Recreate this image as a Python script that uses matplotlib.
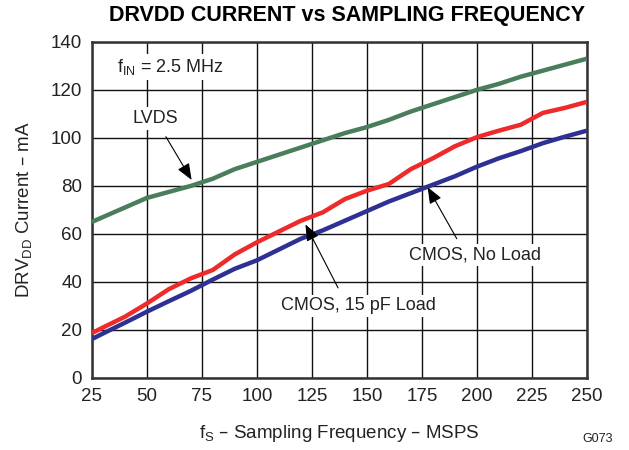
import numpy as np
import matplotlib
matplotlib.use('Agg')
import matplotlib.pyplot as plt

plt.rcParams['font.family'] = ['Liberation Sans', 'DejaVu Sans']
plt.rcParams['mathtext.default'] = 'regular'

fs = [25, 30, 40, 50, 60, 70, 80, 90, 100, 110, 120, 130, 140, 150,
      160, 170, 180, 190, 200, 210, 220, 230, 240, 250]
lvds = [65, 67, 71, 75, 77.5, 80, 83, 87, 90, 93, 96, 99, 102, 104.5,
        107.5, 111, 114, 117, 120, 122.5, 125.5, 128, 130.5, 133]
cmos_15pf = [18.7, 21, 25.5, 31, 37, 41.5, 45, 51.5, 56.5, 61, 65.5, 69, 74.5, 78,
             80.8, 87, 91.5, 96.5, 100.3, 103, 105.5, 110.4, 112.5, 115]
cmos_noload = [16.2, 18.5, 23, 27.6, 32, 36.3, 41, 45.5, 49, 53.5, 58, 61.5, 65.5, 69.5,
               73.5, 77, 80.5, 84, 88, 91.5, 94.5, 97.8, 100.5, 103]

fig = plt.figure(figsize=(6.29, 4.5), dpi=100)
ax = fig.add_axes([0.146, 0.16, 0.787, 0.747])

ax.plot(fs, lvds, color='#4a7d5c', lw=3.2, solid_capstyle='butt', zorder=3)
ax.plot(fs, cmos_15pf, color='#ee2a2a', lw=3.2, solid_capstyle='butt', zorder=3)
ax.plot(fs, cmos_noload, color='#2e3192', lw=3.2, solid_capstyle='butt', zorder=3)

ax.set_xlim(25, 250)
ax.set_ylim(0, 140)
ax.set_xticks(np.arange(25, 251, 25))
ax.set_yticks(np.arange(0, 141, 20))
ax.grid(True, color='#111111', lw=1.0)
ax.set_axisbelow(True)
ax.tick_params(length=0, labelsize=13.5, pad=7, colors='#222222')
for s in ax.spines.values():
    s.set_linewidth(1.8)
    s.set_color('#333333')

ax.set_xlabel('f$_S$ – Sampling Frequency – MSPS', fontsize=13.5, labelpad=13, color='#222222')
ax.set_ylabel('DRV$_{DD}$ Current – mA', fontsize=13.5, labelpad=12, color='#222222')
fig.text(0.551, 0.965, 'DRVDD CURRENT vs SAMPLING FREQUENCY', ha='center', va='center',
         fontsize=15.5, fontweight='bold')
fig.text(0.975, 0.012, 'G073', ha='right', va='bottom', fontsize=9, color='#222222')

box = dict(facecolor='white', edgecolor='none', pad=2)
fsz = 13
ax.text(36.4, 129.6, 'f$_{IN}$ = 2.5 MHz', fontsize=fsz, va='center', ha='left', bbox=box, color='#222222')
ax.text(54, 108, 'LVDS', fontsize=fsz, va='center', ha='center', bbox=box, color='#222222')
ax.text(146.4, 30, 'CMOS, 15 pF Load', fontsize=fsz, va='center', ha='center', bbox=box, color='#222222')
ax.text(199, 51.2, 'CMOS, No Load', fontsize=fsz, va='center', ha='center', bbox=box, color='#222222')

arrow = dict(arrowstyle='-|>,head_length=1.0,head_width=0.4', color='black', lw=0.8)
ax.annotate('', xy=(71, 81.5), xytext=(58, 101.5), arrowprops=arrow, zorder=4)
ax.annotate('', xy=(121.5, 65), xytext=(137.5, 36.5), arrowprops=arrow, zorder=4)
ax.annotate('', xy=(177, 80.5), xytext=(191.5, 57), arrowprops=arrow, zorder=4)

fig.savefig('out.png', dpi=100)
